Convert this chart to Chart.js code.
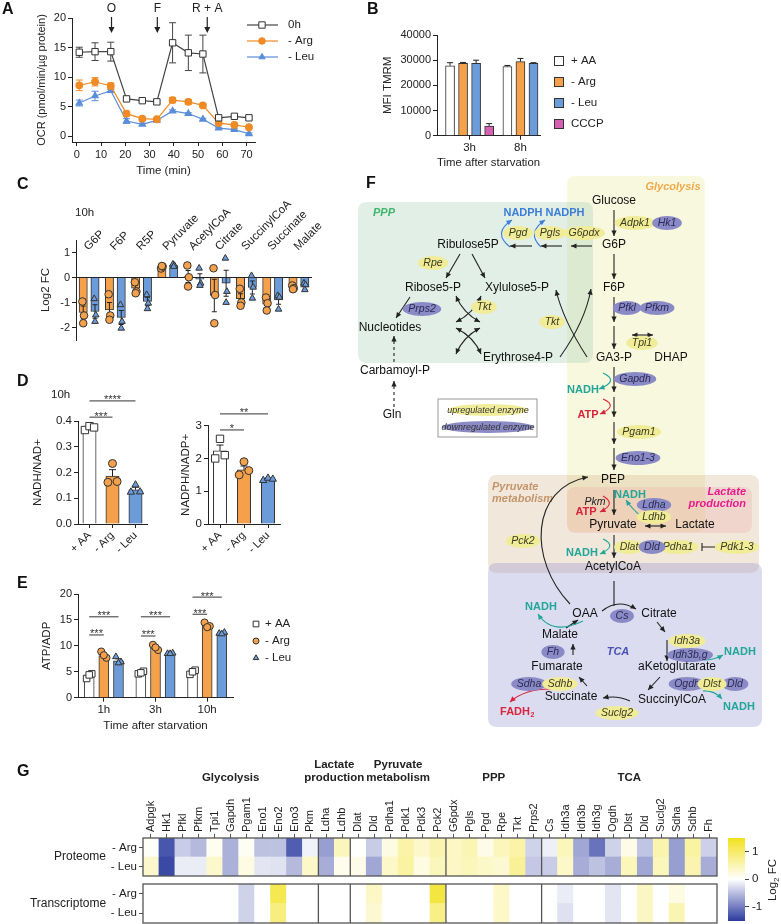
<!DOCTYPE html>
<html>
<head>
<meta charset="utf-8">
<script src="https://cdn.jsdelivr.net/npm/chart.js@4.4.0/dist/chart.umd.min.js"></script>
<style>
body { margin: 0; background: #fff; width: 781px; height: 924px; position: relative; overflow: hidden; font-family: 'Liberation Sans', Arial, sans-serif; }
canvas { position: absolute; }
.lt { position: absolute; font-weight: bold; font-size: 16px; color: #111; z-index: 5; }
.tx { position: absolute; font-size: 11.5px; color: #222; z-index: 5; }
</style>
</head>
<body>
<div class="lt" style="left:2px;top:0px">A</div>
<div class="lt" style="left:367px;top:0px">B</div>
<div class="lt" style="left:17px;top:175px">C</div>
<div class="lt" style="left:17px;top:372px">D</div>
<div class="lt" style="left:17px;top:574px">E</div>
<div class="lt" style="left:366px;top:174px">F</div>
<div class="lt" style="left:17px;top:762px">G</div>
<div class="tx" style="left:75px;top:206px">10h</div>
<div class="tx" style="left:51px;top:388px">10h</div>
<script>
// ---------- data ----------
// A: OCR time course
const timeA = [1, 7.5, 14, 20.5, 27, 33, 39.5, 46, 52, 58.5, 65, 71];
const ocr0h = [14.2, 14.3, 14.3, 6.3, 6.0, 5.8, 15.8, 14.1, 13.9, 3.1, 3.35, 3.1];
const ocr0hErr = [0.85, 1.5, 1.6, 0.25, 0.2, 0.2, 3.4, 3.0, 3.2, 0.2, 0.2, 0.2];
const ocrArg = [8.6, 9.2, 8.5, 3.8, 2.95, 2.85, 6.1, 5.8, 5.2, 2.2, 1.9, 1.5];
const ocrArgErr = [0.9, 0.7, 0.5, 0.4, 0.2, 0.2, 0.45, 0.4, 0.25, 0.2, 0.15, 0.15];
const ocrLeu = [5.6, 6.8, 7.7, 2.55, 2.0, 2.65, 4.25, 3.8, 2.85, 1.35, 1.1, 0.4];
const ocrLeuErr = [0.5, 0.8, 0.2, 0.4, 0.2, 0.15, 0.2, 0.15, 0.15, 0.15, 0.15, 0.15];
const seriesA = ['0h', '- Arg', '- Leu'];
const injections = ['O', 'F', 'R + A'];
const injectionTimes = [14.3, 33.2, 53.8];
const ticksAx = [0, 10, 20, 30, 40, 50, 60, 70];
const ticksAy = [0, 5, 10, 15, 20];

// B: TMRM
const timesB = ['3h', '8h'];
const seriesB = ['+ AA', '- Arg', '- Leu', 'CCCP'];
const mfiAA = [27800, 27500];
const mfiAAErr = [1200, 400];
const mfiArg = [28700, 29400];
const mfiArgErr = [400, 1300];
const mfiLeu = [28700, 28700];
const mfiLeuErr = [1300, 300];
const mfiCCCP = [3800, null];
const mfiCCCPErr = [1000, null];
const ticksB = [0, 10000, 20000, 30000, 40000];

// C: metabolites log2 FC (10h)
const metabolites = ['G6P', 'F6P', 'R5P', 'Pyruvate', 'AcetylCoA', 'Citrate', 'SuccinylCoA', 'Succinate', 'Malate'];
const fcArg = [-1.4, -1.3, -0.43, 0.44, 0.04, -0.72, -0.85, -1.07, -0.39];
const fcArgErr = [0.26, 0.3, 0.13, 0.03, 0.24, 0.65, 0.2, 0.15, 0.05];
const fcLeu = [-1.36, -1.6, -0.96, 0.48, -0.07, -0.23, -0.4, -0.9, -0.39];
const fcLeuErr = [0.27, 0.28, 0.17, 0.03, 0.22, 0.52, 0.26, 0.17, 0.08];
const fcArgPts = [[-0.96, -1.52, -1.83], [-0.67, -1.52, -1.69], [-0.19, -0.56, -0.63], [0.36, 0.44, 0.46], [0.48, 0.01, -0.36], [0.37, -0.7, -1.83], [-0.45, -1.0, -1.13], [-0.8, -1.03, -1.32], [-0.32, -0.43, -0.47]];
const fcLeuPts = [[-0.85, -1.5, -1.76], [-1.09, -1.76, -2.03], [-0.69, -1.03, -1.25], [0.53, 0.48, 0.44], [0.37, -0.23, -0.32], [0.77, -0.56, -1.0], [0.07, -0.39, -0.83], [-0.73, -0.79, -1.27], [-0.23, -0.29, -0.49]];
const ticksC = [-2, -1, 0, 1];

// D: redox ratios (10h)
const groupsD = ['+ AA', '- Arg', '- Leu'];
const nadRatio = [0.373, 0.186, 0.133];
const nadRatioErr = [0.005, 0.025, 0.01];
const nadRatioPts = [[0.365, 0.38, 0.375], [0.162, 0.235, 0.165], [0.124, 0.152, 0.125]];
const nadSig = [[0, 1, 0.415, '***'], [0, 2, 0.478, '****']];
const nadpRatio = [2.23, 1.65, 1.37];
const nadpRatioErr = [0.18, 0.12, 0.03];
const nadpRatioPts = [[2.0, 2.6, 2.1], [1.5, 1.9, 1.63], [1.33, 1.4, 1.37]];
const nadpSig = [[0, 1, 2.87, '*'], [0, 2, 3.36, '**']];
const ticksD1 = [0, 0.1, 0.2, 0.3, 0.4];
const ticksD2 = [0, 1, 2, 3];

// E: ATP/ADP
const hoursE = ['1h', '3h', '10h'];
const seriesE = ['+ AA', '- Arg', '- Leu'];
const atpAA = [4.3, 4.9, 4.9];
const atpAAErr = [0.4, 0.2, 0.25];
const atpArg = [8.1, 9.6, 14.0];
const atpArgErr = [0.5, 0.4, 0.3];
const atpLeu = [7.1, 8.5, 12.4];
const atpLeuErr = [0.4, 0.1, 0.1];
const atpAAPts = [[3.7, 4.6, 4.4], [4.6, 5.1, 4.8], [4.5, 5.3, 5.0]];
const atpArgPts = [[8.9, 7.7, 8.2], [10.2, 9.2, 9.7], [14.5, 13.8, 13.6]];
const atpLeuPts = [[7.9, 6.9, 6.7], [8.5, 8.6, 8.5], [12.4, 12.6, 12.3]];
// [group, series a, series b, y, label]
const atpSig = [[0, 0, 1, 12.1, '***'], [0, 0, 2, 15.6, '***'], [1, 0, 1, 11.9, '***'], [1, 0, 2, 15.6, '***'], [2, 0, 1, 16.1, '***'], [2, 0, 2, 19.4, '***']];
const ticksE = [0, 5, 10, 15, 20];

// G: heatmap log2 FC
const genes = ['Adpgk', 'Hk1', 'Pfkl', 'Pfkm', 'Tpi1', 'Gapdh', 'Pgam1', 'Eno1', 'Eno2', 'Eno3', 'Pkm', 'Ldha', 'Ldhb', 'Dlat', 'Dld', 'Pdha1', 'Pdk1', 'Pdk3', 'Pck2', 'G6pdx', 'Pgls', 'Pgd', 'Rpe', 'Tkt', 'Prps2', 'Cs', 'Idh3a', 'Idh3b', 'Idh3g', 'Ogdh', 'Dlst', 'Dld', 'Suclg2', 'Sdha', 'Sdhb', 'Fh'];
const pathwayNames = ['Glycolysis', 'Lactate\nproduction', 'Pyruvate\nmetabolism', 'PPP', 'TCA'];
const pathwaySizes = [11, 2, 6, 6, 11];
const protArg = [0.05, -1.3, -0.39, -0.53, 0.1, -0.6, 0.08, -0.47, -0.47, -1.25, -0.1, -0.74, 0.45, 0.02, -0.39, 0.2, 0.58, 0.35, 0.53, 0.39, 0.5, 0.15, 0.45, 0.58, -0.34, -0.12, 0.47, -0.68, -1.08, -0.34, 0.15, -0.45, 0.55, -0.74, 0.62, -0.36];
const protLeu = [0.35, -1.4, -0.14, -0.14, 0.35, -0.6, 0.2, -0.2, -0.22, -0.53, 0.37, -0.63, 0.12, 0.15, -0.68, 0.37, 0.62, 0.2, 0.47, 0.39, 0.47, 0.37, 0.3, 0.69, -0.42, -0.39, 0.37, -0.63, -0.47, -0.63, 0.47, -0.68, 0.47, -0.74, 0.53, -0.63];
const transArg = [0, 0, 0, 0, 0, 0, -0.34, 0, 1.17, 0, 0, 0, 0, 0, 0.39, 0, 0, 0, 1.27, 0, 0, 0, 0.37, 0, 0, 0, -0.15, 0, 0, -0.2, 0, 0.41, 0, 0.2, 0, 0];
const transLeu = [0, 0, 0, 0, 0, 0, -0.34, 0, 0.85, 0, 0, 0, 0, 0, 0.3, 0, 0, 0, 0.8, 0, 0, 0, 0.37, 0, 0, 0, -0.23, 0, 0, -0.2, 0, 0.41, 0, 0.5, 0, 0];
const rowsG = ['- Arg', '- Leu'];
const ticksCbar = [-1, 0, 1];

// F: pathway diagram (page coordinates)
const fNodes = [
  ['Glucose', 614, 201], ['G6P', 614, 245], ['F6P', 614, 288], ['GA3-P', 614, 358], ['DHAP', 671, 358],
  ['Ribulose5P', 468, 245], ['Ribose5-P', 433, 288], ['Xylulose5-P', 517, 288], ['Nucleotides', 390, 328],
  ['Erythrose4-P', 518, 358], ['Carbamoyl-P', 395, 371], ['Gln', 392, 415],
  ['PEP', 613, 480], ['Pyruvate', 613, 525], ['Lactate', 695, 525], ['AcetylCoA', 613, 567],
  ['OAA', 585, 614], ['Citrate', 659, 614], ['Malate', 560, 635], ['Fumarate', 557, 667],
  ['aKetoglutarate', 677, 667], ['Succinate', 571, 697], ['SuccinylCoA', 672, 700]
];
// name, x, y, +1 up / -1 down
const fEnzymes = [
  ['Adpk1', 635, 223, 1], ['Hk1', 667, 223, -1], ['Pgd', 518, 233, 1], ['Pgls', 550, 233, 1], ['G6pdx', 584, 233, 1],
  ['Rpe', 433, 263, 1], ['Prps2', 422, 309, -1], ['Tkt', 484, 307, 1], ['Tkt', 552, 322, 1],
  ['Pfkl', 627, 308, -1], ['Pfkm', 657, 308, -1], ['Tpi1', 642, 343, 1], ['Gapdh', 635, 379, -1],
  ['Pgam1', 639, 432, 1], ['Eno1-3', 638, 458, -1], ['Ldha', 654, 505, -1], ['Ldhb', 654, 517, 1],
  ['Pck2', 523, 541, 1], ['Dlat', 629, 547, 1], ['Pdha1', 678, 547, 1], ['Dld', 652, 547, -1], ['Pdk1-3', 737, 547, 1],
  ['Cs', 622, 616, -1], ['Fh', 553, 652, -1], ['Idh3a', 687, 641, 1], ['Idh3b,g', 690, 655, -1],
  ['Sdha', 529, 684, -1], ['Sdhb', 560, 684, 1], ['Ogdh', 687, 684, -1], ['Dld', 735, 684, -1], ['Dlst', 712, 684, 1],
  ['Suclg2', 617, 713, 1]
];
const fCofactors = [
  ['NADPH', 523, 213, 'nadph'], ['NADPH', 565, 213, 'nadph'], ['NADH', 583, 390, 'nadh'], ['ATP', 588, 415, 'atp'],
  ['NADH', 630, 495, 'nadh'], ['ATP', 586, 512, 'atp'], ['NADH', 582, 553, 'nadh'], ['NADH', 541, 607, 'nadh'],
  ['NADH', 740, 652, 'nadh'], ['NADH', 739, 707, 'nadh'], ['FADH2', 517, 712, 'atp']
];
const fBoxes = [
  { label: 'Glycolysis', x0: 567, y0: 176, x1: 705, y1: 532, fill: '#f8f8de', color: '#f0a94a', lx: 673, ly: 187, align: 'center' },
  { label: 'PPP', x0: 358, y0: 202, x1: 593, y1: 363, fill: 'rgba(170,210,185,0.35)', color: '#3fb46b', lx: 373, ly: 213, align: 'left' },
  { label: 'Pyruvate\nmetabolism', x0: 488, y0: 475, x1: 759, y1: 573, fill: 'rgba(200,160,110,0.25)', color: '#c4956a', lx: 492, ly: 487, align: 'left' },
  { label: 'Lactate\nproduction', x0: 567, y0: 487, x1: 752, y1: 533, fill: 'rgba(240,160,160,0.25)', color: '#e8198b', lx: 746, ly: 492, align: 'right' },
  { label: 'TCA', x0: 488, y0: 563, x1: 762, y1: 727, fill: 'rgba(150,150,210,0.33)', color: '#4a50b0', lx: 618, ly: 652, align: 'center' }
];
const fArrows = [
  [614, 210, 614, 236], [614, 254, 614, 279], [614, 297, 614, 322], [614, 326, 614, 349], [614, 367, 614, 392],
  [614, 397, 614, 417], [614, 422, 614, 444], [614, 448, 614, 470], [614, 490, 614, 515], [614, 535, 614, 558],
  [592, 246, 571, 246], [562, 246, 541, 246], [532, 246, 510, 246],
  [460, 254, 446, 278], [472, 254, 485, 278], [410, 297, 396, 318],
  [657, 622, 665, 632], [667, 640, 667, 661], [660, 677, 648, 690], [587, 686, 579, 677], [573, 655, 573, 644], [566, 628, 578, 620]
];
const fDoubleArrows = [[645, 526, 666, 526], [632, 335, 653, 335]];
const fDashed = [[394, 362, 394, 336], [394, 407, 394, 381]];
const fPlainLines = [[614, 581, 614, 606]];
const fInhibit = [[716, 547, 702, 547]];
// quadratic [x1,y1,cx,cy,x2,y2] or cubic (8 numbers), colour key, heads
const fCurves = [
  { p: [602, 611, 618, 598, 636, 609], c: 'k', h: 'end' },
  { p: [630, 701, 617, 695, 603, 698], c: 'k', h: 'end' },
  { p: [570, 604, 528, 560, 530, 488, 588, 477], c: 'k', h: 'end' },
  { p: [456, 296, 463, 313, 480, 322], c: 'k', h: 'both' },
  { p: [481, 296, 474, 313, 456, 322], c: 'k', h: 'both' },
  { p: [456, 354, 463, 337, 480, 328], c: 'k', h: 'both' },
  { p: [481, 354, 474, 337, 456, 328], c: 'k', h: 'both' },
  { p: [560, 357, 585, 322, 591, 289], c: 'k', h: 'end' },
  { p: [587, 357, 563, 320, 556, 290], c: 'k', h: 'end' },
  { p: [510, 247, 492, 233, 512, 220], c: 'nadph', h: 'end' },
  { p: [541, 247, 526, 233, 545, 220], c: 'nadph', h: 'end' },
  { p: [603, 373, 620, 381, 599, 389], c: 'nadh', h: 'end' },
  { p: [603, 399, 619, 406, 600, 414], c: 'atp', h: 'end' },
  { p: [603, 496, 617, 504, 600, 512], c: 'atp', h: 'end' },
  { p: [643, 518, 632, 509, 626, 500], c: 'nadh', h: 'end' },
  { p: [603, 539, 618, 546, 600, 554], c: 'nadh', h: 'end' },
  { p: [583, 621, 552, 636, 538, 614], c: 'nadh', h: 'end' },
  { p: [704, 660, 714, 660, 723, 655], c: 'nadh', h: 'end' },
  { p: [703, 691, 714, 690, 722, 699], c: 'nadh', h: 'end' },
  { p: [555, 689, 525, 688, 510, 702], c: 'atp', h: 'end' }
];

// ---------- setup ----------
const FONT = "'Liberation Sans', Arial, Helvetica, sans-serif";
const ORANGE = '#f5a04a';
const BLUE = '#6b9bd8';
const LINE_OR = '#f08a24';
const LINE_BL = '#5b8ed9';
const PINK = '#d661b3';
const INK = '#222';
Chart.defaults.font.family = FONT;
Chart.defaults.font.size = 11;
Chart.defaults.color = INK;
Chart.defaults.animation = false;
Chart.defaults.responsive = false;
Chart.defaults.devicePixelRatio = 1;
Chart.defaults.plugins.legend.display = false;
Chart.defaults.plugins.tooltip.enabled = false;

function canvas(left, top, w, h) {
  const c = document.createElement('canvas');
  c.width = w; c.height = h;
  c.style.left = left + 'px'; c.style.top = top + 'px';
  c.style.width = w + 'px'; c.style.height = h + 'px';
  document.body.appendChild(c);
  return c;
}

function axis(o) {
  const base = {
    grid: { drawOnChartArea: false, color: INK, tickColor: INK, tickLength: 4, offset: false },
    border: { color: INK, width: 1 },
    ticks: { color: INK, font: { size: 11 }, padding: 2, autoSkip: false },
    title: { display: false, color: INK, font: { size: 11.5 }, padding: 2 }
  };
  for (const k in o) {
    base[k] = (base[k] && typeof o[k] === 'object' && !Array.isArray(o[k])) ? Object.assign({}, base[k], o[k]) : o[k];
  }
  return base;
}
const setTicks = vals => s => { s.ticks = vals.map(v => ({ value: v })); };
// hidden linear axis shared by bars and replicate dots
const posAxis = n => ({ type: 'linear', display: false, offset: false, min: -0.5, max: n - 0.5 });
// fixed-width vertical axis that does not reserve room for half labels
const fixVertical = w => s => { s.width = w; s.paddingTop = 0; s.paddingBottom = 0; };

// error bars, drawn with each dataset
function drawErr(chart, i) {
  const ds = chart.data.datasets[i];
  if (!ds.err) return;
  const meta = chart.getDatasetMeta(i);
  const y = chart.scales[meta.yAxisID];
  const ctx = chart.ctx;
  ctx.save();
  ctx.strokeStyle = ds.errColor || INK;
  ctx.lineWidth = 1;
  meta.data.forEach((el, k) => {
    const raw = ds.data[k];
    const v = (raw && typeof raw === 'object') ? raw.y : raw;
    const e = ds.err[k];
    if (v == null || e == null) return;
    let hi = v + e, lo = v - e;
    const out = ds.errSide === 'out';
    if (out) { if (v >= 0) lo = v; else hi = v; }
    const yh = y.getPixelForValue(hi), yl = y.getPixelForValue(lo), cw = ds.errCap || 3;
    ctx.beginPath();
    ctx.moveTo(el.x, yh); ctx.lineTo(el.x, yl);
    if (!(out && v < 0)) { ctx.moveTo(el.x - cw, yh); ctx.lineTo(el.x + cw, yh); }
    if (!(out && v >= 0)) { ctx.moveTo(el.x - cw, yl); ctx.lineTo(el.x + cw, yl); }
    ctx.stroke();
  });
  ctx.restore();
}
const errPlugin = {
  id: 'errbars',
  beforeDatasetDraw(chart, args) { if (chart.data.datasets[args.index].errLayer === 'before') drawErr(chart, args.index); },
  afterDatasetDraw(chart, args) { if (chart.data.datasets[args.index].errLayer !== 'before') drawErr(chart, args.index); }
};
// significance brackets
const sigPlugin = {
  id: 'sig',
  afterDatasetsDraw(chart, args, opts) {
    if (!opts.items) return;
    const sx = chart.scales.x2, sy = chart.scales.y, ctx = chart.ctx;
    ctx.save();
    ctx.strokeStyle = '#333'; ctx.fillStyle = '#333'; ctx.lineWidth = 1;
    ctx.font = '11px ' + FONT; ctx.textAlign = 'center'; ctx.textBaseline = 'alphabetic';
    opts.items.forEach(([a, b, v, t]) => {
      const x1 = sx.getPixelForValue(a), x2 = sx.getPixelForValue(b), yy = sy.getPixelForValue(v);
      ctx.beginPath(); ctx.moveTo(x1, yy); ctx.lineTo(x2, yy); ctx.stroke();
      ctx.fillText(t, (x1 + x2) / 2, yy + 2.5);
    });
    ctx.restore();
  }
};
Chart.register(errPlugin, sigPlugin);

function scatterPts(vals, centre, jit) {
  return vals.map((v, k) => ({ x: centre + jit[k % jit.length], y: v }));
}
function dotSet(data, style, fill, r) {
  return { type: 'scatter', xAxisID: 'x2', data: data, pointStyle: style, pointRadius: r, backgroundColor: fill, borderColor: '#333', borderWidth: 1, order: 1 };
}
function barSet(label, data, fill, err, thickness) {
  return { type: 'bar', label: label, xAxisID: 'x2', data: data, backgroundColor: fill, borderColor: '#333', borderWidth: 1,
    grouped: false, barThickness: thickness, err: err, order: 2 };
}
function legendMark(ctx, style, fill, stroke, r, x, y) {
  ctx.fillStyle = fill; ctx.strokeStyle = stroke; ctx.lineWidth = 1;
  Chart.helpers.drawPoint(ctx, { pointStyle: style, radius: r, borderWidth: 1, rotation: 0 }, x, y);
}

// ---------- A ----------
new Chart(canvas(0, 0, 330, 180), {
  type: 'line',
  data: {
    datasets: [
      { label: seriesA[0], data: timeA.map((t, i) => ({ x: t, y: ocr0h[i] })), borderColor: '#444', borderWidth: 1.2, pointStyle: 'rect', pointRadius: 4.5, pointBackgroundColor: '#fff', pointBorderColor: '#333', pointBorderWidth: 1, err: ocr0hErr, errLayer: 'before', errColor: '#444', errCap: 3.5 },
      { label: seriesA[1], data: timeA.map((t, i) => ({ x: t, y: ocrArg[i] })), borderColor: LINE_OR, borderWidth: 1.2, pointStyle: 'circle', pointRadius: 3.3, pointBackgroundColor: LINE_OR, pointBorderColor: LINE_OR, err: ocrArgErr, errLayer: 'before', errColor: LINE_OR, errCap: 3.5 },
      { label: seriesA[2], data: timeA.map((t, i) => ({ x: t, y: ocrLeu[i] })), borderColor: LINE_BL, borderWidth: 1.2, pointStyle: 'triangle', pointRadius: 3.6, pointBackgroundColor: LINE_BL, pointBorderColor: LINE_BL, err: ocrLeuErr, errLayer: 'before', errColor: LINE_BL, errCap: 3.5 }
    ]
  },
  options: {
    layout: { padding: { top: 18, right: 75, left: 33 } },
    scales: {
      x: axis({ type: 'linear', min: -2, max: 73.5, afterBuildTicks: setTicks(ticksAx), afterFit: s => { s.height = 38; },
        title: { display: true, text: 'Time (min)', color: INK, font: { size: 11.5 }, padding: 2 } }),
      y: axis({ type: 'linear', min: -1, max: 20, afterBuildTicks: setTicks(ticksAy), afterFit: s => { s.width = 39; },
        title: { display: true, text: 'OCR (pmol/min/µg protein)', color: INK, font: { size: 11 }, padding: 2 } })
    }
  },
  plugins: [{
    id: 'annotA',
    afterDraw(chart) {
      const ctx = chart.ctx, sx = chart.scales.x;
      ctx.save();
      ctx.font = '12px ' + FONT; ctx.fillStyle = INK; ctx.strokeStyle = INK; ctx.textAlign = 'center'; ctx.textBaseline = 'middle';
      injections.forEach((lab, i) => {
        const x = sx.getPixelForValue(injectionTimes[i]);
        ctx.fillText(lab, x, 9);
        ctx.beginPath(); ctx.moveTo(x, 17); ctx.lineTo(x, 30); ctx.lineWidth = 1.2; ctx.stroke();
        ctx.beginPath(); ctx.moveTo(x, 33); ctx.lineTo(x - 3, 27); ctx.lineTo(x + 3, 27); ctx.closePath(); ctx.fill();
      });
      ctx.textAlign = 'left';
      ctx.font = '11.5px ' + FONT;
      chart.data.datasets.forEach((ds, i) => {
        const y = 25 + i * 16;
        ctx.strokeStyle = ds.borderColor; ctx.lineWidth = 1.2;
        ctx.beginPath(); ctx.moveTo(247, y); ctx.lineTo(278, y); ctx.stroke();
        legendMark(ctx, ds.pointStyle, ds.pointBackgroundColor, ds.pointBorderColor, ds.pointRadius, 262, y);
        ctx.fillStyle = INK;
        ctx.fillText(ds.label, 288, y);
      });
      ctx.restore();
    }
  }]
});

// ---------- B ----------
const mfiValues = [mfiAA, mfiArg, mfiLeu, mfiCCCP];
const mfiErrors = [mfiAAErr, mfiArgErr, mfiLeuErr, mfiCCCPErr];
const colorsB = ['#ffffff', ORANGE, BLUE, PINK];
const posB = mfiValues.map(() => []);
const groupCentresB = [];
let slotB = 0;
timesB.forEach((t, g) => {
  const start = slotB;
  mfiValues.forEach((vals, d) => { if (vals[g] != null) { posB[d][g] = slotB; slotB += 1; } });
  groupCentresB.push((start + slotB - 1) / 2);
  slotB += 0.4;
});
new Chart(canvas(335, 0, 270, 171), {
  type: 'bar',
  data: {
    datasets: seriesB.map((name, d) => ({
      label: name,
      data: timesB.map((t, g) => mfiValues[d][g] == null ? null : { x: posB[d][g], y: mfiValues[d][g] }).filter(p => p),
      backgroundColor: colorsB[d], borderColor: '#333', borderWidth: 1, barThickness: 9, grouped: false,
      err: mfiErrors[d].filter(e => e != null), errSide: 'out', errCap: 3
    }))
  },
  options: {
    layout: { padding: { top: 35, right: 65, left: 44 } },
    scales: {
      x: axis({ type: 'linear', offset: false, min: -1, max: 6.9, afterBuildTicks: s => { s.ticks = groupCentresB.map(v => ({ value: v })); },
        ticks: { color: INK, font: { size: 11.5 }, padding: 1, autoSkip: false, callback: (v, i) => timesB[i] },
        afterFit: s => { s.height = 35.3; },
        title: { display: true, text: 'Time after starvation', color: INK, font: { size: 11.5 }, padding: 1 } }),
      y: axis({ type: 'linear', min: 0, max: 40000, afterBuildTicks: setTicks(ticksB), afterFit: s => { s.width = 58; },
        ticks: { color: INK, font: { size: 11 }, padding: 2, autoSkip: false, callback: v => String(v) },
        title: { display: true, text: 'MFI TMRM', color: INK, font: { size: 11.5 }, padding: 2 } })
    }
  },
  plugins: [{
    id: 'legendB',
    afterDraw(chart) {
      const ctx = chart.ctx;
      ctx.save();
      ctx.font = '11.5px ' + FONT; ctx.textBaseline = 'middle'; ctx.textAlign = 'left';
      chart.data.datasets.forEach((ds, i) => {
        const y = 61 + i * 21;
        ctx.fillStyle = ds.backgroundColor; ctx.strokeStyle = '#333'; ctx.lineWidth = 1;
        ctx.fillRect(219.5, y - 4.5, 9, 9); ctx.strokeRect(219.5, y - 4.5, 9, 9);
        ctx.fillStyle = INK;
        ctx.fillText(ds.label, 236, y);
      });
      ctx.restore();
    }
  }]
});

// ---------- C ----------
const jitC = [-0.03, 0.03, 0];
const offC = 0.225;
new Chart(canvas(0, 195, 330, 160), {
  type: 'bar',
  data: {
    labels: metabolites,
    datasets: [
      Object.assign(barSet('- Arg', fcArg.map((v, i) => ({ x: i - offC, y: v })), ORANGE, fcArgErr, 8.3), { errSide: 'both', errCap: 2.5 }),
      Object.assign(barSet('- Leu', fcLeu.map((v, i) => ({ x: i + offC, y: v })), BLUE, fcLeuErr, 8.3), { errSide: 'both', errCap: 2.5 }),
      dotSet(fcArgPts.flatMap((vals, i) => scatterPts(vals, i - offC, jitC)), 'circle', ORANGE, 3.8),
      dotSet(fcLeuPts.flatMap((vals, i) => scatterPts(vals, i + offC, jitC)), 'triangle', BLUE, 3.8)
    ]
  },
  options: {
    layout: { padding: { top: 45, right: 18, bottom: 15, left: 37 } },
    scales: {
      x: { type: 'category', display: false, offset: true },
      x2: posAxis(metabolites.length),
      y: axis({ type: 'linear', min: -2.5, max: 1.5, afterBuildTicks: setTicks(ticksC), afterFit: s => { s.width = 39; },
        grid: { drawOnChartArea: true, color: c => (c.tick && c.tick.value === 0) ? INK : 'rgba(0,0,0,0)', tickColor: INK, tickLength: 4, offset: false },
        title: { display: true, text: 'Log2 FC', color: INK, font: { size: 11.5 }, padding: 2 } })
    }
  },
  plugins: [{
    id: 'labelsC',
    afterDraw(chart) {
      const ctx = chart.ctx, sx = chart.scales.x2, sy = chart.scales.y;
      ctx.save();
      ctx.font = '11.5px ' + FONT; ctx.fillStyle = INK; ctx.textAlign = 'left'; ctx.textBaseline = 'middle';
      metabolites.forEach((m, i) => {
        ctx.save();
        ctx.translate(sx.getPixelForValue(i) - 3, sy.getPixelForValue(1.2) + 1);
        ctx.rotate(-Math.PI / 4);
        ctx.fillText(m, 0, 0);
        ctx.restore();
      });
      ctx.restore();
    }
  }]
});

// ---------- D ----------
const jitD = [-0.2, 0, 0.2];
const stylesD = ['rect', 'circle', 'triangle'];
const fillsD = ['#ffffff', ORANGE, BLUE];
const radiiD = [5.2, 4, 4.2];
function ratioChart(cv, vals, errs, pts, sig, ticks, max, title, pad, yWidth, fmt) {
  return new Chart(cv, {
    type: 'bar',
    data: {
      labels: groupsD,
      datasets: [
        Object.assign(barSet('', vals.map((v, g) => ({ x: g, y: v })), fillsD, errs, 13.3), { errSide: 'out', errCap: 3.5 }),
        ...pts.map((p, g) => dotSet(scatterPts(p, g, jitD), stylesD[g], fillsD[g], radiiD[g]))
      ]
    },
    options: {
      layout: { padding: pad },
      plugins: { sig: { items: sig } },
      scales: {
        x: axis({ type: 'category', offset: true, afterFit: s => { s.height = 41; },
          ticks: { color: INK, font: { size: 11 }, padding: 1, autoSkip: false, minRotation: 45, maxRotation: 45 } }),
        x2: posAxis(groupsD.length),
        y: axis({ type: 'linear', min: 0, max: max, afterBuildTicks: setTicks(ticks), afterFit: s => { s.width = yWidth; },
          ticks: { color: INK, font: { size: 11.5 }, padding: 2, autoSkip: false, callback: fmt },
          title: { display: true, text: title, color: INK, font: { size: 11.5 }, padding: 2 } })
      }
    }
  });
}
ratioChart(canvas(0, 375, 165, 190), nadRatio, nadRatioErr, nadRatioPts, nadSig, ticksD1, 0.4, 'NADH/NAD+',
  { top: 46, right: 18, left: 29 }, 49, v => v.toFixed(1));
ratioChart(canvas(165, 375, 165, 190), nadpRatio, nadpRatioErr, nadpRatioPts, nadpSig, ticksD2, 3, 'NADPH/NADP+',
  { top: 50.7, right: 50, left: 12 }, 31, v => String(v));

// ---------- E ----------
const atpVals = [atpAA, atpArg, atpLeu];
const atpErrs = [atpAAErr, atpArgErr, atpLeuErr];
const atpPts = [atpAAPts, atpArgPts, atpLeuPts];
const offE = 0.85 / 3;
const jitE = [-0.05, 0.05, 0];
new Chart(canvas(0, 565, 330, 169), {
  type: 'bar',
  data: {
    labels: hoursE,
    datasets: [
      ...atpVals.map((vals, d) => Object.assign(barSet(seriesE[d], vals.map((v, g) => ({ x: g + (d - 1) * offE, y: v })), fillsD[d], atpErrs[d], 10), { errSide: 'out', errCap: 3 })),
      ...atpPts.map((grp, d) => dotSet(grp.flatMap((vals, g) => scatterPts(vals, g + (d - 1) * offE, jitE)), stylesD[d], fillsD[d], [4.6, 3.6, 3.8][d]))
    ]
  },
  options: {
    layout: { padding: { top: 29, right: 97, left: 38 } },
    plugins: { sig: { items: atpSig.map(([g, a, b, y, t]) => [g + (a - 1) * offE, g + (b - 1) * offE, y, t]) } },
    scales: {
      x: axis({ type: 'category', offset: true, afterFit: s => { s.height = 36.3; },
        ticks: { color: INK, font: { size: 11.5 }, padding: 1, autoSkip: false },
        title: { display: true, text: 'Time after starvation', color: INK, font: { size: 11.5 }, padding: 1 } }),
      x2: posAxis(hoursE.length),
      y: axis({ type: 'linear', min: 0, max: 20, afterBuildTicks: setTicks(ticksE), afterFit: s => { s.width = 40; },
        title: { display: true, text: 'ATP/ADP', color: INK, font: { size: 11.5 }, padding: 2 } })
    }
  },
  plugins: [{
    id: 'legendE',
    afterDraw(chart) {
      const ctx = chart.ctx;
      ctx.save();
      ctx.font = '11.5px ' + FONT; ctx.textBaseline = 'middle'; ctx.textAlign = 'left';
      seriesE.forEach((s, d) => {
        const y = 59 + d * 17;
        legendMark(ctx, stylesD[d], fillsD[d], '#333', [4, 3, 3.2][d], 256, y);
        ctx.fillStyle = INK;
        ctx.fillText(s, 265, y);
      });
      ctx.restore();
    }
  }]
});

// ---------- F: pathway ----------
const cofColors = { k: '#222', nadph: '#3b7dd8', nadh: '#22a699', atp: '#d9253b' };
function rrect(ctx, x, y, w, h, r) {
  ctx.beginPath();
  ctx.moveTo(x + r, y); ctx.lineTo(x + w - r, y); ctx.quadraticCurveTo(x + w, y, x + w, y + r);
  ctx.lineTo(x + w, y + h - r); ctx.quadraticCurveTo(x + w, y + h, x + w - r, y + h);
  ctx.lineTo(x + r, y + h); ctx.quadraticCurveTo(x, y + h, x, y + h - r);
  ctx.lineTo(x, y + r); ctx.quadraticCurveTo(x, y, x + r, y); ctx.closePath();
}
function head(ctx, x, y, ang, col) {
  ctx.save(); ctx.translate(x, y); ctx.rotate(ang); ctx.fillStyle = col;
  ctx.beginPath(); ctx.moveTo(0, 0); ctx.lineTo(-5.5, -2.6); ctx.lineTo(-5.5, 2.6); ctx.closePath(); ctx.fill();
  ctx.restore();
}
function drawPathway(chart) {
  const ctx = chart.ctx;
  const X = v => chart.scales.x.getPixelForValue(v);
  const Y = v => chart.scales.y.getPixelForValue(v);
  ctx.save();
  fBoxes.forEach(b => {
    ctx.fillStyle = b.fill;
    rrect(ctx, X(b.x0), Y(b.y0), X(b.x1) - X(b.x0), Y(b.y1) - Y(b.y0), 9);
    ctx.fill();
  });
  ctx.textBaseline = 'middle';
  fBoxes.forEach(b => {
    ctx.fillStyle = b.color; ctx.font = 'italic bold 11px ' + FONT; ctx.textAlign = b.align;
    b.label.split('\n').forEach((t, i) => ctx.fillText(t, X(b.lx), Y(b.ly) + i * 12));
  });
  ctx.lineWidth = 1.1;
  ctx.strokeStyle = '#222';
  fArrows.forEach(([x1, y1, x2, y2]) => {
    ctx.beginPath(); ctx.moveTo(X(x1), Y(y1)); ctx.lineTo(X(x2), Y(y2)); ctx.stroke();
    head(ctx, X(x2), Y(y2), Math.atan2(Y(y2) - Y(y1), X(x2) - X(x1)), '#222');
  });
  fDoubleArrows.forEach(([x1, y1, x2, y2]) => {
    ctx.beginPath(); ctx.moveTo(X(x1), Y(y1)); ctx.lineTo(X(x2), Y(y2)); ctx.stroke();
    head(ctx, X(x2), Y(y2), 0, '#222'); head(ctx, X(x1), Y(y1), Math.PI, '#222');
  });
  fPlainLines.forEach(([x1, y1, x2, y2]) => { ctx.beginPath(); ctx.moveTo(X(x1), Y(y1)); ctx.lineTo(X(x2), Y(y2)); ctx.stroke(); });
  ctx.setLineDash([3, 3]);
  fDashed.forEach(([x1, y1, x2, y2]) => {
    ctx.beginPath(); ctx.moveTo(X(x1), Y(y1)); ctx.lineTo(X(x2), Y(y2)); ctx.stroke();
  });
  ctx.setLineDash([]);
  fDashed.forEach(([x1, y1, x2, y2]) => head(ctx, X(x2), Y(y2), Math.atan2(Y(y2) - Y(y1), X(x2) - X(x1)), '#222'));
  fInhibit.forEach(([x1, y1, x2, y2]) => {
    ctx.beginPath(); ctx.moveTo(X(x1), Y(y1)); ctx.lineTo(X(x2), Y(y2));
    ctx.moveTo(X(x2), Y(y2) - 4); ctx.lineTo(X(x2), Y(y2) + 4); ctx.stroke();
  });
  fCurves.forEach(cv => {
    const p = cv.p, col = cofColors[cv.c], n = p.length;
    ctx.strokeStyle = col; ctx.lineWidth = 1.1;
    ctx.beginPath(); ctx.moveTo(X(p[0]), Y(p[1]));
    if (n === 6) ctx.quadraticCurveTo(X(p[2]), Y(p[3]), X(p[4]), Y(p[5]));
    else ctx.bezierCurveTo(X(p[2]), Y(p[3]), X(p[4]), Y(p[5]), X(p[6]), Y(p[7]));
    ctx.stroke();
    head(ctx, X(p[n - 2]), Y(p[n - 1]), Math.atan2(Y(p[n - 1]) - Y(p[n - 3]), X(p[n - 2]) - X(p[n - 4])), col);
    if (cv.h === 'both') head(ctx, X(p[0]), Y(p[1]), Math.atan2(Y(p[1]) - Y(p[3]), X(p[0]) - X(p[2])), col);
  });
  // enzymes
  ctx.textAlign = 'center';
  ctx.font = 'italic 10.5px ' + FONT;
  fEnzymes.forEach(([name, x, y, dir]) => {
    const w = ctx.measureText(name).width + 11;
    ctx.fillStyle = dir > 0 ? '#f1ec98' : '#8a8ac6';
    ctx.beginPath(); ctx.ellipse(X(x), Y(y), w / 2, 7, 0, 0, Math.PI * 2); ctx.fill();
    ctx.fillStyle = dir > 0 ? '#3a3a20' : '#2b2b55';
    ctx.fillText(name, X(x), Y(y) + 0.5);
  });
  ctx.fillStyle = '#222';
  ctx.fillText('Pkm', X(595), Y(502));
  // metabolites
  ctx.font = '12px ' + FONT; ctx.fillStyle = '#111';
  fNodes.forEach(([name, x, y]) => ctx.fillText(name, X(x), Y(y)));
  // cofactors
  ctx.font = 'bold 11px ' + FONT;
  fCofactors.forEach(([name, x, y, c]) => {
    ctx.fillStyle = cofColors[c];
    if (name === 'FADH2') {
      ctx.textAlign = 'right'; ctx.fillText('FADH', X(x) + 13, Y(y));
      ctx.font = 'bold 7px ' + FONT; ctx.textAlign = 'left'; ctx.fillText('2', X(x) + 13.5, Y(y) + 3);
      ctx.font = 'bold 11px ' + FONT; ctx.textAlign = 'center';
    } else {
      ctx.fillText(name, X(x), Y(y));
    }
  });
  // key
  ctx.strokeStyle = '#999'; ctx.lineWidth = 1;
  ctx.strokeRect(X(438), Y(399), X(537) - X(438), Y(437) - Y(399));
  ctx.font = 'italic 9px ' + FONT;
  [['upregulated enzyme', 410, '#f1ec98', 40], ['downregulated enzyme', 427, '#8a8ac6', 46]].forEach(([t, y, col, rx]) => {
    ctx.fillStyle = col; ctx.beginPath(); ctx.ellipse(X(488), Y(y), rx, 6, 0, 0, Math.PI * 2); ctx.fill();
    ctx.fillStyle = '#333'; ctx.fillText(t, X(488), Y(y) + 0.5);
  });
  ctx.restore();
}
new Chart(canvas(340, 170, 441, 565), {
  type: 'scatter',
  data: { datasets: [{ data: fNodes.map(n => ({ x: n[1], y: n[2] })), pointRadius: 0 }] },
  options: {
    layout: { padding: 0 },
    scales: {
      x: { type: 'linear', display: false, min: 340, max: 781 },
      y: { type: 'linear', display: false, min: 170, max: 735, reverse: true }
    }
  },
  plugins: [{ id: 'pathway', beforeDatasetsDraw: drawPathway }]
});

// ---------- G: heatmaps ----------
const HEAT_NEG = [45, 60, 160];
const HEAT_POS = [242, 225, 30];
const HEAT_LIM = 1.5;
function heatColor(v) {
  const t = Math.max(-1, Math.min(1, v / HEAT_LIM));
  const end = t < 0 ? HEAT_NEG : HEAT_POS;
  const a = Math.abs(t);
  return 'rgb(' + end.map(e => Math.round(255 + (e - 255) * a)).join(',') + ')';
}
const heatFrame = {
  id: 'heatFrame',
  afterDatasetsDraw(chart, args, opts) {
    const ctx = chart.ctx, a = chart.chartArea, sx = chart.scales.x;
    ctx.save();
    ctx.strokeStyle = '#555'; ctx.lineWidth = 1.3;
    let idx = 0;
    pathwaySizes.slice(0, -1).forEach(n => {
      idx += n;
      const xb = (sx.getPixelForValue(idx - 1) + sx.getPixelForValue(idx)) / 2;
      ctx.beginPath(); ctx.moveTo(xb, a.top); ctx.lineTo(xb, a.bottom); ctx.stroke();
    });
    ctx.strokeRect(a.left, a.top, a.right - a.left, a.bottom - a.top);
    ctx.fillStyle = INK; ctx.textAlign = 'center'; ctx.textBaseline = 'middle';
    ctx.font = '12px ' + FONT;
    ctx.fillText(opts.title, opts.titleX, (a.top + a.bottom) / 2);
    if (opts.headers) {
      ctx.font = 'bold 11.5px ' + FONT;
      let start = 0;
      pathwaySizes.forEach((n, g) => {
        const xc = (sx.getPixelForValue(start) + sx.getPixelForValue(start + n - 1)) / 2;
        const lines = pathwayNames[g].split('\n');
        lines.forEach((t, k) => ctx.fillText(t, xc, opts.headerY - (lines.length - 1 - k) * 13.5));
        start += n;
      });
    }
    ctx.restore();
  }
};
function heatmap(cv, argVals, leuVals, withLabels, pad, title, titleX) {
  return new Chart(cv, {
    type: 'bar',
    data: {
      labels: genes,
      datasets: [
        { label: rowsG[1], data: genes.map(() => 1), backgroundColor: leuVals.map(heatColor) },
        { label: rowsG[0], data: genes.map(() => 1), backgroundColor: argVals.map(heatColor) }
      ]
    },
    options: {
      layout: { padding: pad },
      datasets: { bar: { barPercentage: 1, categoryPercentage: 1, borderWidth: 0 } },
      plugins: { heatFrame: { title: title, titleX: titleX, headers: withLabels, headerY: 33 } },
      scales: {
        x: {
          type: 'category', stacked: true, position: 'top', display: withLabels, offset: true,
          grid: { drawOnChartArea: false, offset: false, tickLength: 4, color: '#555', tickColor: '#555' },
          border: { display: false },
          ticks: { autoSkip: false, minRotation: 90, maxRotation: 90, labelOffset: 13.2, font: { size: 11 }, color: INK, padding: 2 },
          afterFit: s => { if (withLabels) s.height = 93; }
        },
        y: {
          type: 'linear', stacked: true, min: 0, max: 2,
          afterBuildTicks: setTicks([0.5, 1.5]),
          grid: { drawOnChartArea: false, tickLength: 4, color: '#555', tickColor: '#555' },
          border: { display: false },
          ticks: { font: { size: 11.5 }, color: INK, padding: 2, callback: v => (v > 1 ? rowsG[0] : rowsG[1]) },
          afterFit: fixVertical(143)
        }
      }
    },
    plugins: [heatFrame]
  });
}
heatmap(canvas(0, 745, 781, 133), protArg, protLeu, true, { right: 64, bottom: 2 }, 'Proteome', 80);
heatmap(canvas(0, 880, 781, 44), transArg, transLeu, false, { top: 4, right: 64, bottom: 1 }, 'Transcriptome', 68);

// colour bar
new Chart(canvas(715, 830, 66, 94), {
  type: 'bar',
  data: {
    labels: [''],
    datasets: [{
      data: [[-HEAT_LIM, HEAT_LIM]], borderWidth: 0, barPercentage: 1, categoryPercentage: 1,
      backgroundColor: c => {
        const ch = c.chart, a = ch.chartArea;
        if (!a) return '#fff';
        const sy = ch.scales.y;
        const g = ch.ctx.createLinearGradient(0, sy.getPixelForValue(-HEAT_LIM), 0, sy.getPixelForValue(HEAT_LIM));
        for (let k = 0; k <= 10; k++) g.addColorStop(k / 10, heatColor(-HEAT_LIM + k * 2 * HEAT_LIM / 10));
        return g;
      }
    }]
  },
  options: {
    layout: { padding: { top: 8, bottom: 2, left: 13 } },
    scales: {
      x: { type: 'category', display: false, offset: true },
      y: {
        type: 'linear', position: 'right', min: -HEAT_LIM - 0.05, max: HEAT_LIM,
        afterBuildTicks: setTicks(ticksCbar),
        grid: { drawOnChartArea: false, tickLength: 4, color: '#444', tickColor: '#444' },
        border: { display: false },
        ticks: { font: { size: 11.5 }, color: INK, padding: 3 },
        afterFit: fixVertical(36)
      }
    }
  },
  plugins: [{
    id: 'cbarTitle',
    afterDraw(chart) {
      const ctx = chart.ctx, a = chart.chartArea;
      ctx.save();
      ctx.translate(58, (a.top + a.bottom) / 2);
      ctx.rotate(-Math.PI / 2);
      ctx.fillStyle = INK; ctx.textBaseline = 'middle'; ctx.textAlign = 'left';
      ctx.font = '11.5px ' + FONT;
      const w1 = ctx.measureText('Log').width;
      ctx.font = '8px ' + FONT;
      const w2 = ctx.measureText('2').width;
      ctx.font = '11.5px ' + FONT;
      const w3 = ctx.measureText(' FC').width;
      let x = -(w1 + w2 + w3) / 2;
      ctx.fillText('Log', x, 0); x += w1;
      ctx.font = '8px ' + FONT; ctx.fillText('2', x, 4); x += w2;
      ctx.font = '11.5px ' + FONT; ctx.fillText(' FC', x, 0);
      ctx.restore();
    }
  }]
});
</script>
</body>
</html>
